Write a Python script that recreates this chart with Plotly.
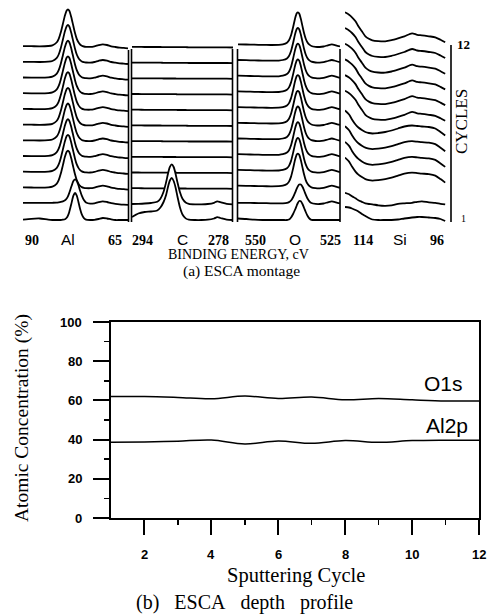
import plotly.graph_objects as go

# ---------------- data: (b) ESCA depth profile ----------------
CYCLES = [1, 2, 3, 4, 5, 6, 7, 8, 9, 10, 11, 12]
O1S = [62.0, 62.0, 61.5, 60.8, 62.2, 61.0, 61.7, 60.3, 61.0, 60.3, 59.7, 59.7]
AL2P = [38.6, 38.8, 39.2, 39.8, 37.8, 39.3, 38.1, 39.5, 38.6, 39.5, 39.7, 39.7]
Y_TICKS = [0, 20, 40, 60, 80, 100]
Y_MINOR = [10, 30, 50, 70, 90]
X_TICKS = [2, 4, 6, 8, 10, 12]
X_MINOR = [3, 5, 7, 9, 11]

# ---------------- data: (a) ESCA montage (intensity, arbitrary units) ----------------
AL_E = [90, 88, 86, 84, 83, 82, 81.5, 81, 80.5, 80, 79.6, 79.3, 79, 78.5, 78, 77.6,
        77.2, 76.8, 76.4, 76, 75.5, 75, 74, 73, 72, 71, 70, 69, 68, 67, 66, 65]
AL_MAIN = [1.2, 1.1, 1.0, 1.3, 2.0, 4.8, 8.5, 15.0, 23.5, 32.0, 36.8, 38.0, 36.8, 30.0, 21.0, 14.0,
           8.5, 5.0, 2.8, 1.5, 0.8, 0.5, 0.4, 1.0, 2.2, 3.0, 2.3, 1.0, 0.3, -0.3, -0.6, -1.0]
AL_CYC2 = [1.5, 1.5, 1.4, 1.4, 1.5, 1.7, 2.0, 2.4, 3.0, 4.0, 5.8, 8.0, 11.2, 17.5, 23.3, 25.0,
           23.4, 19.0, 13.5, 8.6, 4.2, 1.8, 0.6, 1.0, 2.2, 3.0, 2.3, 1.2, 0.5, 0.0, -0.3, -0.5]
AL_CYC1 = [0.3, 1.2, 1.5, 0.3, 0.0, 0.0, 0.0, 0.0, 0.3, 0.8, 2.2, 4.4, 7.8, 16.0, 24.4, 27.0,
           24.4, 18.0, 11.0, 5.6, 1.8, 0.4, 0.0, 0.2, 1.0, 2.0, 1.5, 0.6, 0.0, 0.0, 0.0, 0.0]

C_E = [294, 293, 292, 291, 290, 289.5, 289, 288.6, 288.3, 288, 287.7, 287.4, 287.1,
       286.8, 286.4, 286, 285.5, 285, 284, 283, 282, 281, 280.5, 280, 279, 278]
C_FLAT = [0.4, 0.4, 0.3, 0.3, 0.3, 0.3, 0.2, 0.2, 0.2, 0.2, 0.2, 0.2, 0.2,
          0.1, 0.1, 0.1, 0.1, 0.0, 0.0, 0.0, 0.0, 0.0, 0.0, 0.0, 0.0, -0.2]
C_CYC2 = [0.3, 0.5, 0.8, 1.3, 2.5, 5.5, 12.5, 22.0, 30.5, 37.4, 40.0, 37.3, 30.5,
          22.0, 12.0, 5.5, 1.8, 0.5, 0.0, 0.0, 0.3, 1.5, 3.0, 2.2, 0.5, 0.0]
C_CYC1 = [3.0, 6.5, 8.0, 8.5, 9.5, 12.5, 18.0, 25.0, 33.0, 39.5, 42.0, 39.0, 32.5,
          23.5, 12.5, 5.5, 1.6, 0.3, 0.0, 0.0, 0.3, 1.5, 2.8, 2.0, 0.4, 0.0]

O_E = [550, 548, 546, 544, 542, 540, 539, 538, 537.5, 537, 536.5, 536, 535.6, 535.3, 535,
       534.6, 534.2, 533.8, 533.4, 533, 532.5, 532, 531, 530, 529, 528, 527, 526, 525]
O_MAIN = [3.0, 2.8, 2.6, 2.4, 2.3, 2.4, 3.0, 4.6, 7.0, 12.0, 20.0, 29.0, 34.0, 35.0, 33.8,
          28.5, 21.2, 14.0, 8.5, 5.0, 2.6, 1.3, 0.5, 0.3, 0.8, 2.0, 3.0, 2.0, 0.8]
O_CYC2 = [1.5, 1.4, 1.3, 1.2, 1.0, 0.9, 1.0, 1.4, 2.2, 3.8, 7.0, 11.6, 15.7, 18.2, 19.8,
          19.8, 17.5, 13.8, 9.6, 6.0, 3.0, 1.3, 0.4, 0.3, 0.8, 2.0, 3.0, 2.0, 0.8]
O_CYC1 = [1.5, 1.0, 0.3, 0.0, 0.0, 0.0, 0.0, 0.0, 0.5, 2.5, 6.0, 10.5, 14.5, 17.3, 19.0,
          18.8, 16.0, 12.0, 8.0, 4.5, 1.5, 0.2, 0.0, 0.0, 0.0, 0.0, 0.0, 0.0, 0.0]

SI_E = [114.2, 113.5, 113, 112.4, 111.9, 111.3, 110.7, 110.1, 109.5, 108.5, 107.3,
        106.2, 105.1, 104, 102.7, 101.8, 101, 99.8, 98.7, 97.8, 97.0]
SI_UPPER = [35, 32.5, 30, 26, 21, 16, 11, 8.5, 7, 6.2, 6, 7.2, 9, 11, 14, 12.5, 12, 11, 10, 7.5, 5]
SI_LOWER = [31, 27, 22, 17, 14, 11.5, 9.5, 8.5, 8, 8.5, 9.5, 11, 13, 15, 16, 15.5, 15, 14.5, 13, 9.5, 6]
SI_CYC2 = [11.5, 10, 8, 6, 4, 2.5, 1, 0.3, 0, -1, -1.5, -1, 0.5, 1, 1.5, 2.5, 3, 2, 1.5, 0.5, 0]
SI_CYC1 = [13, 12.5, 11.5, 10, 8.5, 6, 4, 2, 0.5, 0, 0, 0, 0.5, 1.5, 2.5, 3, 3, 2.5, 2, 1, -1]

PANEL_LABELS = ["90", "Al", "65", "294", "C", "278", "550", "O", "525", "114", "Si", "96"]

# profile used by each cycle (index 0 = cycle 1)
AL_BY_CYCLE = [AL_CYC1, AL_CYC2] + [AL_MAIN] * 10
C_BY_CYCLE = [C_CYC1, C_CYC2] + [C_FLAT] * 10
O_BY_CYCLE = [O_CYC1, O_CYC2] + [O_MAIN] * 10
SI_BY_CYCLE = [SI_CYC1, SI_CYC2] + [SI_LOWER] * 4 + [SI_UPPER] * 6

# ---------------- layout helpers ----------------
W, H = 492, 616


def fx(p):
    return p / W


def fy(p):
    return 1 - p / H


MONT_BOTTOM = 222.0      # pixel row of montage y = 0
BASE0 = 2.0              # offset of cycle-1 baseline
STEP = 15.7              # vertical spacing between cycles

panels = [
    ("x2", (23, 128), [90, 65], AL_E, AL_BY_CYCLE),
    ("x3", (132, 233), [294, 278], C_E, C_BY_CYCLE),
    ("x4", (238, 340), [550, 525], O_E, O_BY_CYCLE),
    ("x5", (345, 451), [114.2, 96], SI_E, SI_BY_CYCLE),
]

fig = go.Figure()

for ax, dom, rng, energies, by_cycle in panels:
    for k in range(len(by_cycle), 0, -1):
        prof = by_cycle[k - 1]
        base = BASE0 + (k - 1) * STEP
        fig.add_trace(go.Scatter(
            x=energies, y=[base + v for v in prof],
            xaxis=ax, yaxis="y2", mode="lines",
            line=dict(color="black", width=1.8, shape="spline", smoothing=0.7),
            fill="tozeroy", fillcolor="white", hoverinfo="skip", showlegend=False))
    n = ax[1:]
    fig.layout["xaxis" + n] = dict(domain=[fx(dom[0]), fx(dom[1])], range=rng,
                                   anchor="y2", visible=False, fixedrange=True)

fig.layout["yaxis2"] = dict(domain=[fy(MONT_BOTTOM), 1.0], range=[0, MONT_BOTTOM],
                            anchor="x2", visible=False, fixedrange=True)

# ---------------- depth profile ----------------
for vals in (O1S, AL2P):
    fig.add_trace(go.Scatter(
        x=CYCLES, y=vals, mode="lines", xaxis="x", yaxis="y",
        line=dict(color="black", width=1.5, shape="spline", smoothing=1.0),
        hoverinfo="skip", showlegend=False))

fig.update_layout(
    width=W, height=H, margin=dict(l=0, r=0, t=0, b=0),
    paper_bgcolor="white", plot_bgcolor="rgba(0,0,0,0)", showlegend=False,
    xaxis=dict(domain=[fx(111), fx(479)], range=[1, 12], anchor="y",
               tickmode="array", tickvals=X_TICKS, showticklabels=False,
               ticks="outside", ticklen=15, tickwidth=2, tickcolor="black",
               minor=dict(tickvals=X_MINOR, ticks="outside", ticklen=5,
                          tickwidth=1.5, tickcolor="black"),
               showline=True, linewidth=2, linecolor="black", mirror=True,
               showgrid=False, zeroline=False),
    yaxis=dict(domain=[fy(518), fy(322)], range=[0, 100], anchor="x",
               tickmode="array", tickvals=Y_TICKS, showticklabels=False,
               ticks="outside", ticklen=16, tickwidth=2, tickcolor="black",
               minor=dict(tickvals=Y_MINOR, ticks="outside", ticklen=5,
                          tickwidth=1.5, tickcolor="black"),
               showline=True, linewidth=2, linecolor="black", mirror=True,
               showgrid=False, zeroline=False),
)

tickfont = dict(family="Liberation Sans", size=13, color="black", weight="bold")
for v in Y_TICKS:
    fig.add_annotation(text=str(v), x=fx(84), y=v, xref="paper", yref="y",
                       xanchor="right", yanchor="middle", showarrow=False, font=tickfont)
for v in X_TICKS:
    fig.add_annotation(text=str(v), x=v, y=fy(554), xref="x", yref="paper",
                       xanchor="center", yanchor="middle", showarrow=False, font=tickfont)

# ---------------- montage separators ----------------
seps = [(128.5, 50), (131.5, 49), (232.5, 49), (237.5, 49), (340, 49), (451, 45)]
for xp, top in seps:
    fig.add_shape(type="line", xref="paper", yref="paper",
                  x0=fx(xp), x1=fx(xp), y0=fy(top), y1=fy(MONT_BOTTOM),
                  line=dict(color="black", width=1.6), layer="above")


# ---------------- text ----------------
def ann(text, xp, yp, size, family="Liberation Serif", angle=0, weight="normal"):
    fig.add_annotation(text=text, x=fx(xp), y=fy(yp), xref="paper", yref="paper",
                       xanchor="center", yanchor="middle", showarrow=False,
                       textangle=angle,
                       font=dict(family=family, size=size, color="black", weight=weight))


label_x = [32, 68, 115, 142, 182, 218, 255, 295, 330, 363, 400, 437]
for txt, xp in zip(PANEL_LABELS, label_x):
    if txt.isdigit():
        ann(txt, xp, 240, 14, weight="bold")
    else:
        ann(txt, xp, 239, 15.5, family="Liberation Sans")

ann("BINDING ENERGY, cV", 238, 254, 14)
ann("(a) ESCA montage", 241, 271, 15.5)
ann("12", 463, 45, 13, weight="bold")
ann("CYCLES", 462, 122, 17, angle=-90)
ann("1", 463, 218, 10)

ann("O1s", 443, 383, 21, family="Liberation Sans")
ann("Al2p", 447, 425, 21, family="Liberation Sans")
ann("Atomic Concentration (%)", 22, 418, 19.5, angle=-90)
ann("Sputtering Cycle", 296, 575, 20.5)
ann("(b)\u00a0\u00a0 ESCA\u00a0\u00a0 depth\u00a0\u00a0 profile", 244, 602, 20)

fig.write_html(
    "out.html",
    config={"displayModeBar": False, "staticPlot": True},
    post_script="document.body.style.margin='0';document.body.style.overflow='hidden';",
)
